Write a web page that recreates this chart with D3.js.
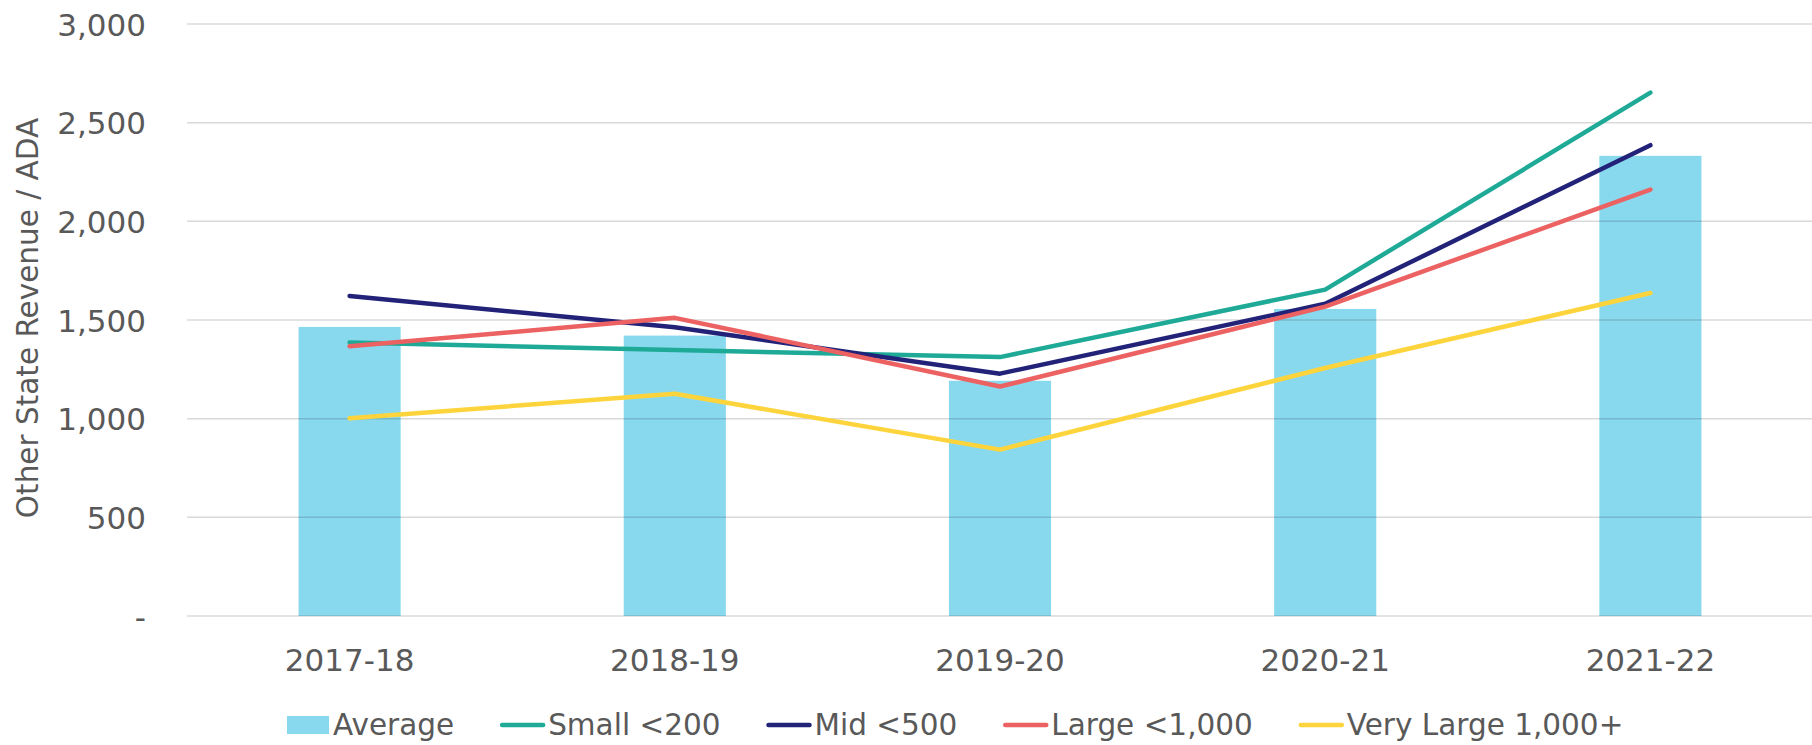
<!DOCTYPE html>
<html>
<head>
<meta charset="utf-8">
<script src="https://cdn.jsdelivr.net/npm/d3@7"></script>
<style>
  body { margin: 0; background: #fff; }
  svg { display: block; font-family: "DejaVu Sans", sans-serif; }
</style>
</head>
<body>
<svg width="1812" height="745"></svg>
<script>
// data
const years = ["2017-18", "2018-19", "2019-20", "2020-21", "2021-22"];
const average = [1465, 1421, 1192, 1556, 2332];
const small = [1386, 1348, 1312, 1654, 2652];
const mid = [1622, 1463, 1228, 1582, 2386];
const large = [1367, 1511, 1163, 1568, 2161];
const veryLarge = [1002, 1126, 843, 1257, 1637];
const yTicks = [0, 500, 1000, 1500, 2000, 2500, 3000];

const lineSeries = [
  {name: "Small <200", values: small, color: "#1FAA97"},
  {name: "Mid <500", values: mid, color: "#222279"},
  {name: "Large <1,000", values: large, color: "#EC6262"},
  {name: "Very Large 1,000+", values: veryLarge, color: "#FED43C"}
];

const textColor = "#595959";
const svg = d3.select("svg");

const x = d3.scaleBand()
    .domain(years)
    .range([187, 1813])
    .paddingInner(0.686)
    .paddingOuter(0.343);

const y = d3.scaleLinear()
    .domain([0, 3000])
    .range([616, 24]);

// bars
svg.selectAll(".bar")
    .data(years)
    .enter().append("rect")
    .attr("class", "bar")
    .attr("x", d => x(d))
    .attr("y", (d, i) => y(average[i]))
    .attr("width", x.bandwidth())
    .attr("height", (d, i) => y(0) - y(average[i]))
    .attr("fill", "#89D9EE");

// gridlines (drawn over bars so they show through slightly)
svg.append("g")
    .selectAll("line")
    .data(yTicks)
    .enter().append("line")
    .attr("x1", 187)
    .attr("x2", 1812)
    .attr("y1", d => y(d))
    .attr("y2", d => y(d))
    .attr("stroke", "#000")
    .attr("stroke-opacity", 0.15)
    .attr("stroke-width", 1.5);

// y-axis
const yAxis = svg.append("g")
    .attr("transform", "translate(146,0)")
    .call(d3.axisLeft(y).tickValues(yTicks).tickSize(0).tickPadding(0)
        .tickFormat(d => d === 0 ? "-" : d3.format(",")(d)));
yAxis.select(".domain").remove();
yAxis.selectAll("text")
    .attr("fill", textColor)
    .style("font-size", "31px")
    .style("font-family", "DejaVu Sans, sans-serif")
    .attr("dy", "0.36em");

// x-axis
const xAxis = svg.append("g")
    .attr("transform", "translate(0,616)")
    .call(d3.axisBottom(x).tickSize(0).tickPadding(0));
xAxis.select(".domain").remove();
xAxis.selectAll("text")
    .attr("fill", textColor)
    .style("font-size", "31px")
    .style("font-family", "DejaVu Sans, sans-serif")
    .attr("y", 55)
    .attr("dy", 0);

// lines
const line = d3.line()
    .x((d, i) => x(years[i]) + x.bandwidth() / 2)
    .y(d => y(d));

svg.selectAll(".series")
    .data(lineSeries)
    .enter().append("path")
    .attr("class", "series")
    .attr("d", d => line(d.values))
    .attr("fill", "none")
    .attr("stroke", d => d.color)
    .attr("stroke-width", 4.5)
    .attr("stroke-linecap", "round")
    .attr("stroke-linejoin", "round");

// y-axis label
svg.append("text")
    .attr("transform", "translate(37.5,318) rotate(-90)")
    .attr("text-anchor", "middle")
    .attr("fill", textColor)
    .style("font-size", "29.5px")
    .text("Other State Revenue / ADA");

// legend
const legend = svg.append("g");
let lx = 287;
const items = [{name: "Average", color: "#89D9EE", bar: true}].concat(lineSeries);
items.forEach(it => {
  if (it.bar) {
    legend.append("rect")
        .attr("x", lx).attr("y", 716)
        .attr("width", 42).attr("height", 18)
        .attr("fill", it.color);
    lx += 46;
  } else {
    legend.append("line")
        .attr("x1", lx + 2).attr("x2", lx + 43)
        .attr("y1", 725).attr("y2", 725)
        .attr("stroke", it.color)
        .attr("stroke-width", 4.5)
        .attr("stroke-linecap", "round");
    lx += 48;
  }
  const t = legend.append("text")
      .attr("x", lx).attr("y", 735)
      .attr("fill", textColor)
      .style("font-size", "29.5px")
      .text(it.name);
  lx += t.node().getComputedTextLength() + 46;
});
</script>
</body>
</html>
